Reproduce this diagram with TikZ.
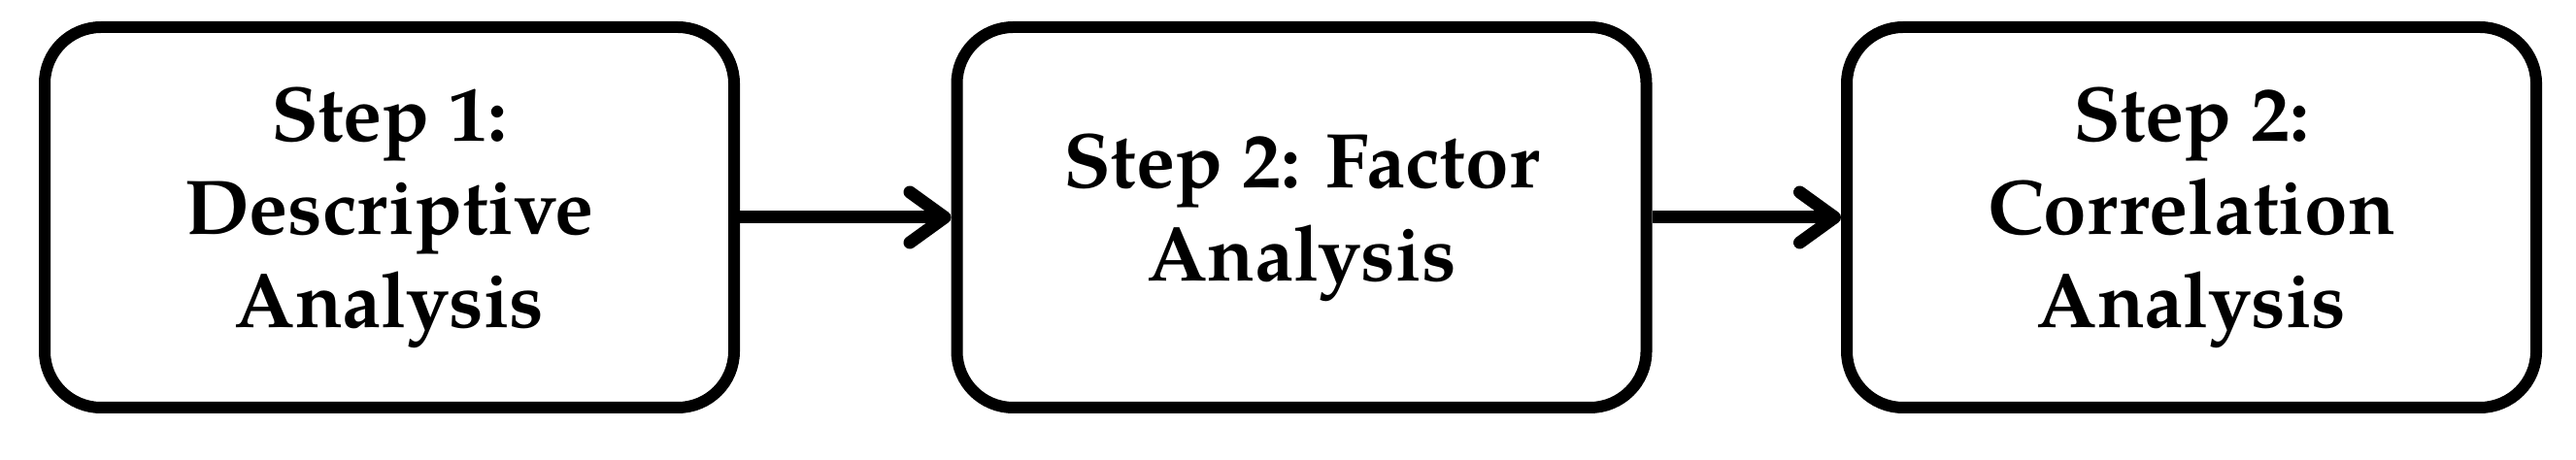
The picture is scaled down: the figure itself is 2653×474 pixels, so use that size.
\documentclass[tikz,border=0pt]{standalone}
\usepackage{fontspec}
\setmainfont{texgyrepagella}[Extension=.otf,UprightFont=*-regular,BoldFont=*-bold,ItalicFont=*-italic,BoldItalicFont=*-bolditalic]
\usetikzlibrary{arrows.meta}
\begin{document}
\begin{tikzpicture}[x=0.5pt,y=-0.5pt,
  stepbox/.style={draw=black,line width=6pt,rounded corners=29pt,
    minimum width=355pt,minimum height=196pt,align=center,
    font=\fontsize{40}{48}\selectfont\bfseries,inner sep=0pt},
  arr/.style={line width=6.5pt,
    -{Straight Barb[length=18pt,width=26pt,line width=6.5pt,round]}}]
\useasboundingbox (0,0) rectangle (2653,474);
\node[stepbox] (b1) at (401,224) {Step 1:\\Descriptive\\Analysis};
\node[stepbox] (b2) at (1340.5,224) {Step 2: Factor\\Analysis};
\node[stepbox] (b3) at (2257,224) {Step 2:\\Correlation\\Analysis};
\draw[arr] (b1.east) -- (b2.west);
\draw[arr] (b2.east) -- (b3.west);
\end{tikzpicture}
\end{document}
